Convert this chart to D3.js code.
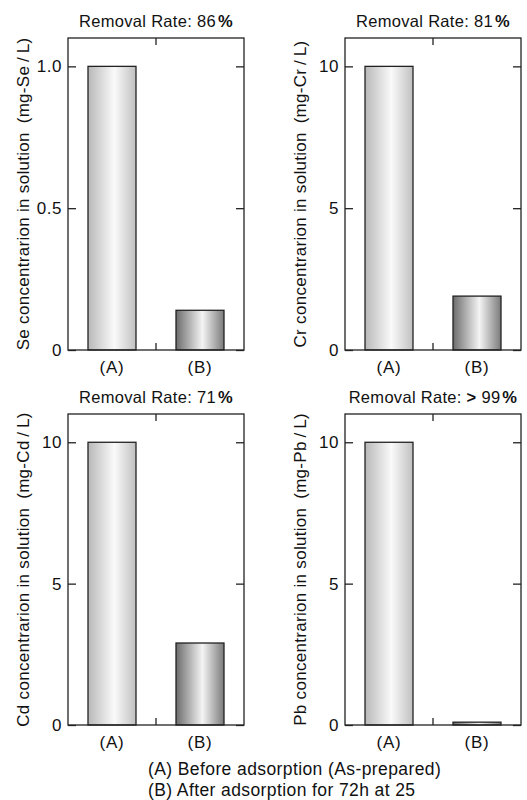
<!DOCTYPE html>
<html><head><meta charset="utf-8">
<script src="https://d3js.org/d3.v7.min.js"></script>
<style>body{margin:0;background:#fff}svg{display:block}text{font-family:"Liberation Sans",Arial,sans-serif;fill:#111}</style>
</head><body>
<script>
const categories = ["(A)", "(B)"];
const elements = ["Se", "Cr", "Cd", "Pb"];
const seValues = [1.0, 0.14];
const crValues = [10, 1.9];
const cdValues = [10, 2.9];
const pbValues = [10, 0.1];
const removalRates = ["86", "81", "71", "> 99"];
const yMaxes = [1.1, 11, 11, 11];
const tickValuesSe = [0, 0.5, 1.0];
const tickValuesOther = [0, 5, 10];
const tickLabelsSe = ["0", "0.5", "1.0"];
const tickLabelsOther = ["0", "5", "10"];
const legendLines = ["(A) Before adsorption (As-prepared)", "(B) After adsorption for 72h at 25"];

const W = 527, H = 800;
const svg = d3.select("body").append("svg").attr("width", W).attr("height", H);
const defs = svg.append("defs");
const gA = defs.append("linearGradient").attr("id","gA").attr("x1","0").attr("x2","1").attr("y1","0").attr("y2","0");
[[0,"#b8b8b8"],[0.55,"#fafafa"],[1,"#c0c0c0"]].forEach(s=>gA.append("stop").attr("offset",s[0]).attr("stop-color",s[1]));
const gB = defs.append("linearGradient").attr("id","gB").attr("x1","0").attr("x2","1").attr("y1","0").attr("y2","0");
[[0,"#6c6c6c"],[0.55,"#f4f4f4"],[1,"#7a7a7a"]].forEach(s=>gB.append("stop").attr("offset",s[0]).attr("stop-color",s[1]));

const panels = [
  {vals: seValues, el: "Se", x0: 68, x1: 244, y0: 38, y1: 350, ticks: tickValuesSe, labels: tickLabelsSe},
  {vals: crValues, el: "Cr", x0: 345, x1: 521, y0: 38, y1: 350, ticks: tickValuesOther, labels: tickLabelsOther},
  {vals: cdValues, el: "Cd", x0: 68, x1: 244, y0: 414, y1: 725, ticks: tickValuesOther, labels: tickLabelsOther},
  {vals: pbValues, el: "Pb", x0: 345, x1: 521, y0: 414, y1: 725, ticks: tickValuesOther, labels: tickLabelsOther}
];

panels.forEach((p, i) => {
  const g = svg.append("g");
  const x = d3.scalePoint().domain(categories).range([p.x0, p.x1]).padding(0.5);
  const y = d3.scaleLinear().domain([0, yMaxes[i]]).range([p.y1, p.y0]);
  const bw = 48;
  g.selectAll("rect.bar").data(p.vals).join("rect")
    .attr("x", (d, j) => x(categories[j]) - bw/2)
    .attr("y", d => y(d))
    .attr("width", bw)
    .attr("height", d => y(0) - y(d))
    .attr("fill", (d, j) => j === 0 ? "url(#gA)" : "url(#gB)")
    .attr("stroke", "#222").attr("stroke-width", 1.3);
  g.append("rect").attr("x", p.x0).attr("y", p.y0).attr("width", p.x1 - p.x0).attr("height", p.y1 - p.y0)
    .attr("fill", "none").attr("stroke", "#222").attr("stroke-width", 1.3);
  const yl = g.append("g").attr("transform", `translate(${p.x0},0)`)
    .call(d3.axisRight(y).tickValues(p.ticks).tickSize(8).tickFormat(""));
  yl.select(".domain").remove();
  yl.selectAll("line").attr("stroke", "#222").attr("stroke-width", 1.3);
  const yr = g.append("g").attr("transform", `translate(${p.x1},0)`)
    .call(d3.axisLeft(y).tickValues(p.ticks).tickSize(8).tickFormat(""));
  yr.select(".domain").remove();
  yr.selectAll("line").attr("stroke", "#222").attr("stroke-width", 1.3);
  g.selectAll("text.tl").data(p.ticks).join("text")
    .attr("x", p.x0 - 6).attr("y", d => y(d) + 6)
    .attr("text-anchor", "end").attr("font-size", 17).attr("letter-spacing", 0.5)
    .text((d, j) => p.labels[j]);
  const xm = (p.x0 + p.x1) / 2;
  g.append("line").attr("x1", xm).attr("x2", xm).attr("y1", p.y0).attr("y2", p.y0 + 7).attr("stroke", "#222").attr("stroke-width", 1.3);
  g.append("line").attr("x1", xm).attr("x2", xm).attr("y1", p.y1).attr("y2", p.y1 - 7).attr("stroke", "#222").attr("stroke-width", 1.3);
  g.selectAll("text.xl").data(categories).join("text")
    .attr("x", d => x(d)).attr("y", p.y1 + 23)
    .attr("text-anchor", "middle").attr("font-size", 17).attr("letter-spacing", 0.8).text(d => d);
  const t = g.append("text").attr("x", xm).attr("y", p.y0 - 11).attr("text-anchor", "middle")
    .attr("font-size", 16.5).attr("letter-spacing", 0.3);
  t.append("tspan").text("Removal Rate: ");
  if (removalRates[i].startsWith(">")) {
    t.append("tspan").attr("font-weight", "bold").text("> ");
    t.append("tspan").text(removalRates[i].slice(2));
  } else {
    t.append("tspan").text(removalRates[i]);
  }
  t.append("tspan").attr("font-weight", "bold").attr("dx", 2).text("%");
  const ly = (p.y0 + p.y1) / 2;
  const lx = p.x0 - 39;
  g.append("text").attr("transform", `translate(${lx},${ly}) rotate(-90)`)
    .attr("text-anchor", "middle").attr("font-size", 17).attr("letter-spacing", 0.3)
    .text(`${p.el} concentrarion in solution\u2002(mg-${p.el}\u2009/\u2009L)`);
});

svg.selectAll("text.leg").data(legendLines).join("text")
  .attr("x", 148).attr("y", (d, i) => 775 + i * 21)
  .attr("font-size", 17.5).attr("letter-spacing", 0.4).text(d => d);
</script>
</body></html>
